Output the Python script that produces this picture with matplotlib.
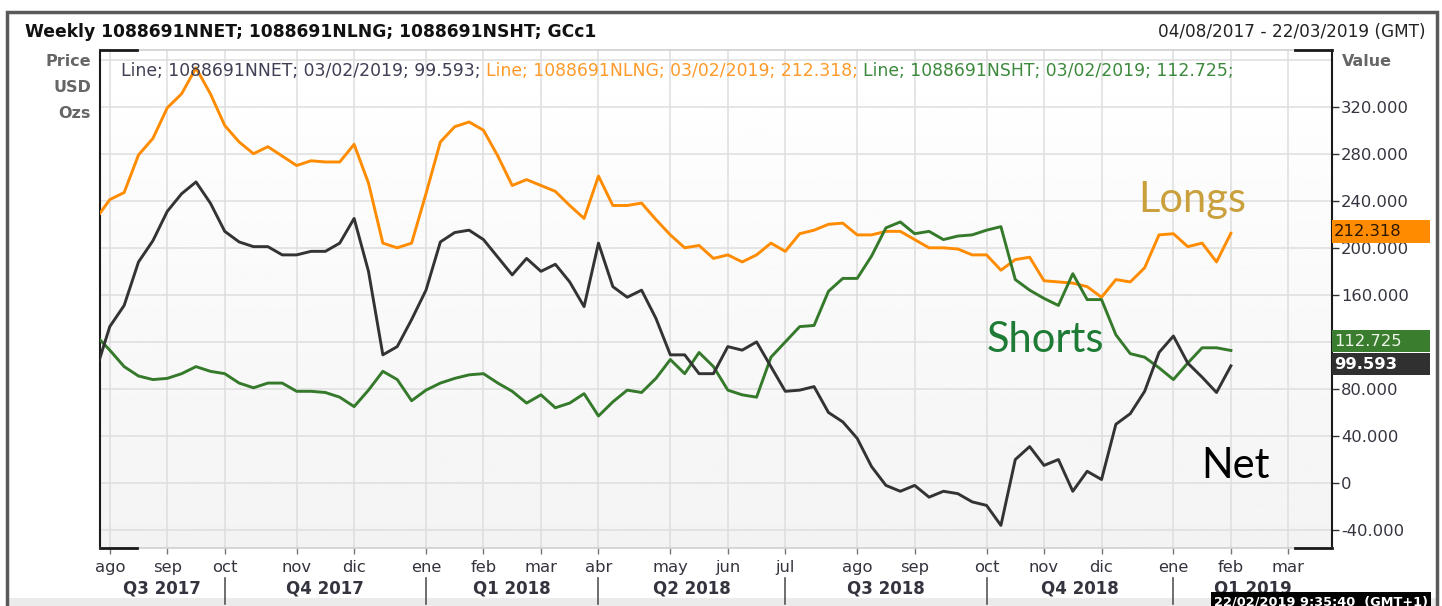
import numpy as np
import pandas as pd
import matplotlib
matplotlib.use("Agg")
import matplotlib.pyplot as plt
import matplotlib.dates as mdates
import matplotlib.transforms as mtransforms
from matplotlib.patches import Rectangle
from matplotlib.lines import Line2D

# weekly COT positions, gold (thousand contracts), Sunday stamps
weeks = pd.date_range("2017-07-30", periods=80, freq="7D")

net = [94, 133, 151, 188, 206, 231, 246, 256, 238, 214,
       205, 201, 201, 194, 194, 197, 197, 204, 225, 180,
       109, 116, 139, 164, 205, 213, 215, 207, 192, 177,
       191, 180, 186, 171, 150, 204, 167, 158, 164, 140,
       109, 109, 93, 93, 116, 113, 120, 99, 78, 79,
       82, 60, 52, 38, 14, -2, -7, -2, -12, -7,
       -9, -16, -19, -36, 20, 31, 15, 20, -7, 10,
       3, 50, 59, 78, 111, 125, 102, 90, 77, 99.593]

longs = [224, 241, 247, 279, 293, 319, 331, 353, 331, 304,
         290, 280, 286, 278, 270, 274, 273, 273, 288, 255,
         204, 200, 204, 246, 290, 303, 307, 300, 278, 253,
         258, 253, 248, 236, 225, 261, 236, 236, 238, 224,
         211, 200, 202, 191, 194, 188, 194, 204, 197, 212,
         215, 220, 221, 211, 211, 214, 214, 207, 200, 200,
         199, 194, 194, 181, 190, 192, 172, 171, 170, 167,
         158, 173, 171, 183, 211, 212, 201, 204, 188, 212.318]

shorts = [126, 113, 99, 91, 88, 89, 93, 99, 95, 93,
          85, 81, 85, 85, 78, 78, 77, 73, 65, 79,
          95, 88, 70, 79, 85, 89, 92, 93, 85, 78,
          68, 75, 64, 68, 76, 57, 69, 79, 77, 89,
          105, 93, 111, 99, 79, 75, 73, 107, 120, 133,
          134, 163, 174, 174, 193, 217, 222, 212, 214, 207,
          210, 211, 215, 218, 173, 164, 157, 151, 178, 156,
          156, 126, 110, 107, 98, 88, 102, 115, 115, 112.725]

month_ticks = ["2017-08-06", "2017-09-03", "2017-10-01", "2017-11-05", "2017-12-03",
               "2018-01-07", "2018-02-04", "2018-03-04", "2018-04-01", "2018-05-06",
               "2018-06-03", "2018-07-01", "2018-08-05", "2018-09-02", "2018-10-07",
               "2018-11-04", "2018-12-02", "2019-01-06", "2019-02-03", "2019-03-03"]
month_labels = ["ago", "sep", "oct", "nov", "dic", "ene", "feb", "mar", "abr", "may",
                "jun", "jul", "ago", "sep", "oct", "nov", "dic", "ene", "feb", "mar"]
quarter_bounds = ["2017-10-01", "2018-01-07", "2018-04-01", "2018-07-01", "2018-10-07", "2019-01-06"]
quarter_labels = ["Q3 2017", "Q4 2017", "Q1 2018", "Q2 2018", "Q3 2018", "Q4 2018", "Q1 2019"]
y_ticks = [-40, 0, 40, 80, 120, 160, 200, 240, 280, 320]
hidden_tick = 120  # sits under the value tags

c_net = "#333333"
c_long = "#ff8c00"
c_short = "#35792b"
c_txt = "#34343f"

W, H = 1442, 606
fig = plt.figure(figsize=(W / 100, H / 100), dpi=100)
fig.patch.set_facecolor("white")
ax = fig.add_axes([99.5 / W, 1 - 547.5 / H, 1232 / W, 497.5 / H])

# light vertical gradient behind the lines
grad = np.linspace(0.955, 1.0, 256)[:, None]
ax.imshow(grad, extent=(0, 1, 0, 1), transform=ax.transAxes, aspect="auto",
          cmap="gray", vmin=0, vmax=1, origin="lower", zorder=0)

ax.plot(weeks, longs, color=c_long, lw=2.1, zorder=3)
ax.plot(weeks, shorts, color=c_short, lw=2.1, zorder=3)
ax.plot(weeks, net, color=c_net, lw=2.1, zorder=4)

ax.set_xlim(mdates.date2num(pd.Timestamp("2017-08-01")), mdates.date2num(pd.Timestamp("2019-03-24")))
ax.set_ylim(-54.8, 368.2)

tick_dates = [mdates.date2num(pd.Timestamp(d)) for d in month_ticks]
ax.set_xticks(tick_dates)
ax.set_xticklabels(month_labels)
ax.set_yticks(y_ticks)
ax.set_yticklabels(["" if v == hidden_tick else ("0" if v == 0 else "%.3f" % v) for v in y_ticks])
ax.yaxis.tick_right()
ax.tick_params(axis="x", length=4, width=1, color="#777777", pad=5, labelsize=11.8, labelcolor=c_txt)
ax.tick_params(axis="y", length=5, width=1, color="#333333", pad=2, labelsize=11.8, labelcolor=c_txt)
ax.grid(True, color="#dedede", lw=1.1, zorder=1)
ax.axhline(360, color="#dedede", lw=1.1, zorder=1)
ax.set_axisbelow(True)

for s in ["left", "right"]:
    ax.spines[s].set_color("#1a1a1a")
    ax.spines[s].set_linewidth(1.5)
for s in ["top", "bottom"]:
    ax.spines[s].set_color("#cfcfcf")
    ax.spines[s].set_linewidth(1.2)
corner = 37 / 1232
for x0 in [0, 1 - corner]:
    for y0 in [0, 1]:
        ax.add_line(Line2D([x0, x0 + corner], [y0, y0], transform=ax.transAxes,
                           color="#1a1a1a", lw=2, clip_on=False, zorder=6))

# quarter row under the months
tx = mtransforms.blended_transform_factory(ax.transData, ax.transAxes)
xl, xr = ax.get_xlim()
bounds = [xl] + [mdates.date2num(pd.Timestamp(d)) for d in quarter_bounds] + [xr]
for i, lab in enumerate(quarter_labels):
    ax.text((bounds[i] + bounds[i + 1]) / 2, -41.5 / 497.5, lab, transform=tx,
            ha="center", va="center", fontsize=12, fontweight="bold", color=c_txt)
for b in bounds[1:-1]:
    ax.add_line(Line2D([b, b], [-30 / 497.5, -56 / 497.5], transform=tx,
                       color="#555555", lw=1.2, clip_on=False))

# last value tags on the right axis
ty = mtransforms.blended_transform_factory(ax.transAxes, ax.transData)
tags = [(212.318, 1.4, c_long, "#2b1800", "normal"),
        (112.725, 8.0, "#3a7d2e", "#eef5e8", "normal"),
        (99.593, 1.6, "#303030", "white", "bold")]
for val, shift, fc, tc, fw in tags:
    yc = val + shift
    ax.add_patch(Rectangle((1.0, yc - 9.6), 98 / 1232, 19.2, transform=ty,
                           facecolor=fc, edgecolor="none", clip_on=False, zorder=7))
    ax.text(1.002, yc, "%.3f" % val, transform=ty, ha="left", va="center",
            fontsize=11.8, color=tc, fontweight=fw, zorder=8, clip_on=False)

# header and side labels
fig.text(25 / W, 1 - 32 / H, "Weekly 1088691NNET; 1088691NLNG; 1088691NSHT; GCc1",
         fontsize=12.3, fontweight="bold", color="#111111", va="center")
fig.text(1425 / W, 1 - 32 / H, "04/08/2017 - 22/03/2019 (GMT)",
         fontsize=12.2, color="#222222", va="center", ha="right")
for lab, yp in [("Price", 62), ("USD", 88), ("Ozs", 114)]:
    fig.text(91 / W, 1 - yp / H, lab, fontsize=11.5, fontweight="bold",
             color="#666666", ha="right", va="center")
fig.text(1342 / W, 1 - 62 / H, "Value", fontsize=11.5, fontweight="bold",
         color="#666666", ha="left", va="center")

t1 = fig.text(121 / W, 1 - 71 / H, "Line; 1088691NNET; 03/02/2019; 99.593;",
              fontsize=12.4, color="#3f3f55", va="center")
t2 = ax.annotate("Line; 1088691NLNG; 03/02/2019; 212.318;", xy=(1, 0), xycoords=t1,
                 xytext=(4, 0), textcoords="offset points", va="bottom",
                 fontsize=12.4, color="#ff9a2a", annotation_clip=False)
ax.annotate("Line; 1088691NSHT; 03/02/2019; 112.725;", xy=(1, 0), xycoords=t2,
            xytext=(4, 0), textcoords="offset points", va="bottom",
            fontsize=12.4, color="#3d8a3d", annotation_clip=False)

# slide annotations
fig.text(1138 / W, 1 - 212 / H, "Longs", fontsize=30, family=["Lato", "DejaVu Sans"],
         color="#c9a03c", va="baseline")
fig.text(987 / W, 1 - 352 / H, "Shorts", fontsize=30, family=["Lato", "DejaVu Sans"],
         color="#1e7b35", va="baseline")
fig.text(1201 / W, 1 - 478 / H, "Net", fontsize=30, family=["Lato", "DejaVu Sans"],
         color="black", va="baseline")

# frame, footer and timestamp strip (cut by the bottom edge, as in the export)
fig.add_artist(Rectangle((8 / W, 0), 1429 / W, 8 / H, transform=fig.transFigure,
                         facecolor="#ebebeb", edgecolor="none", zorder=0))
fig.add_artist(Rectangle((7 / W, -0.02), 1430 / W, 1 - 12 / H + 0.02, transform=fig.transFigure,
                         fill=False, edgecolor="#5a5a5a", lw=2.5))
fig.text(1214 / W, 1 - 602 / H, "22/02/2019 9:35:40  (GMT+1)", fontsize=9.3,
         color="white", fontweight="bold", va="center",
         bbox=dict(boxstyle="square,pad=0.25", facecolor="black", edgecolor="none"))

fig.savefig("out.png", dpi=100)
